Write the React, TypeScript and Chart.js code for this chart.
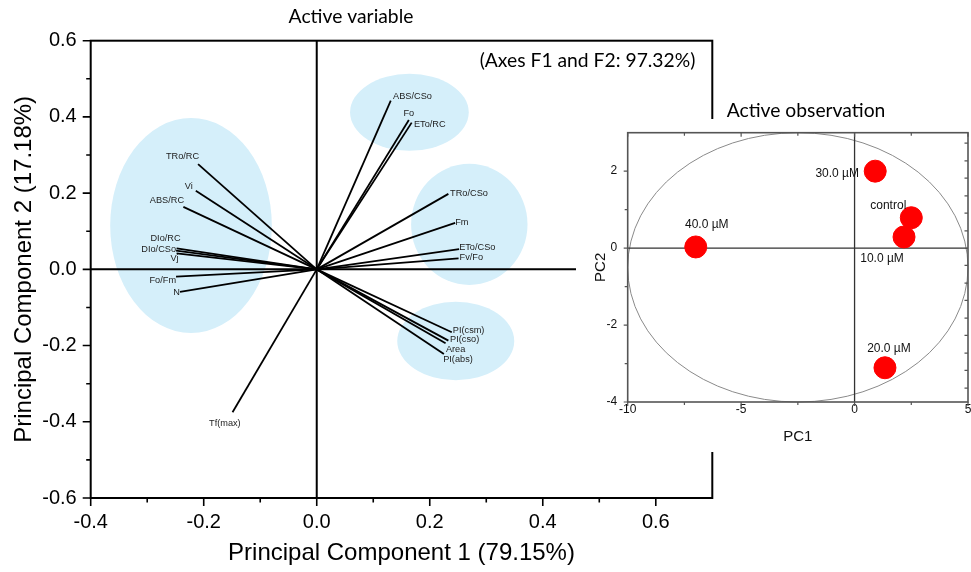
import React, { useEffect, useRef } from 'react';
import { Chart, registerables } from 'chart.js';

Chart.register(...registerables);

// ---------- Data: active variables (loadings) ----------
const varNames = ['TRo/RC', 'Vi', 'ABS/RC', 'DIo/RC', 'DIo/CSo', 'Vj', 'Fo/Fm', 'N', 'ABS/CSo', 'Fo', 'ETo/RC', 'TRo/CSo', 'Fm', 'ETo/CSo', 'Fv/Fo', 'PI(csm)', 'PI(cso)', 'Area', 'PI(abs)', 'Tf(max)'];
const varPC1 = [-0.210, -0.214, -0.236, -0.248, -0.249, -0.248, -0.249, -0.242, 0.131, 0.163, 0.168, 0.233, 0.245, 0.252, 0.251, 0.239, 0.233, 0.228, 0.225, -0.149];
const varPC2 = [0.276, 0.206, 0.164, 0.055, 0.049, 0.042, -0.019, -0.059, 0.443, 0.392, 0.385, 0.198, 0.122, 0.053, 0.029, -0.165, -0.187, -0.194, -0.222, -0.375];

// group ellipses (data units)
const groupCx = [-0.2225, 0.164, 0.270, 0.246];
const groupCy = [0.115, 0.412, 0.118, -0.188];
const groupRx = [0.143, 0.105, 0.103, 0.1035];
const groupRy = [0.282, 0.101, 0.159, 0.103];

// ---------- Data: active observations (scores) ----------
const obsNames = ['control', '10.0 \u00b5M', '20.0 \u00b5M', '30.0 \u00b5M', '40.0 \u00b5M'];
const obsPC1 = [2.50, 2.18, 1.34, 0.91, -7.00];
const obsPC2 = [0.79, 0.29, -3.11, 2.00, 0.03];
const confCenter = [-2.5, -0.5];
const confRadii = [7.5, 3.5];

// ---------- Tick values ----------
const mainXTicks = [-0.4, -0.2, 0, 0.2, 0.4, 0.6];
const mainXMinor = [-0.3, -0.1, 0.1, 0.3, 0.5];
const mainYTicks = [-0.6, -0.4, -0.2, 0, 0.2, 0.4, 0.6];
const mainYMinor = [-0.5, -0.3, -0.1, 0.1, 0.3, 0.5];
const insetXTicks = [-10, -5, 0, 5];
const insetXMinor = [-7.5, -2.5, 2.5];
const insetYTicks = [-4, -2, 0, 2];
const insetYMinor = [-3, -1, 1];
const insetRightTicks = [-3.64, -3.18, -2.73, -2.27, -1.82, -1.36, -0.91, -0.45, 0.45, 0.91, 1.36, 1.82, 2.27, 2.73];

// ---------- Label placement (pixel offsets from vector end: dx, dy, align) ----------
const varLabelPlace: [number, number, CanvasTextAlign][] = [
  [1, -7.6, 'right'], [-3, -4.3, 'right'], [0.7, -6.7, 'right'], [4, -10, 'right'], [0, -1.4, 'right'],
  [2, 5, 'right'], [0, 4, 'right'], [0, 0.6, 'right'],
  [2.3, -4, 'left'], [0, -7, 'center'], [2.3, 1.5, 'left'],
  [1.7, -0.7, 'left'], [0, -0.4, 'left'], [0, -1.3, 'left'], [1, -0.6, 'left'],
  [1, -1.3, 'left'], [1.7, -0.7, 'left'], [0.3, 5.7, 'left'], [-0.7, 5.3, 'left'],
  [-7.7, 11.7, 'center'],
];
const obsLabelPlace: [number, number][] = [[-23, -11.7], [-22, 22], [4, -19], [-38, 2.6], [11, -22]];

const SANS = '"Liberation Sans", Arial, sans-serif';
const CAL = 'Lato, "Open Sans", sans-serif';
const ELLIPSE_FILL = 'rgb(213, 239, 250)';

function drawTicks(ctx: CanvasRenderingContext2D, scale: any, values: number[], side: string, edge: number, len: number) {
  ctx.beginPath();
  values.forEach((v) => {
    const p = scale.getPixelForValue(v);
    if (side === 'bottom') { ctx.moveTo(p, edge); ctx.lineTo(p, edge + len); }
    if (side === 'top') { ctx.moveTo(p, edge); ctx.lineTo(p, edge - len); }
    if (side === 'left') { ctx.moveTo(edge, p); ctx.lineTo(edge - len, p); }
    if (side === 'right') { ctx.moveTo(edge, p); ctx.lineTo(edge + len, p); }
  });
  ctx.stroke();
}

function zeroPad(s: any) {
  s.paddingLeft = 0; s.paddingRight = 0; s.paddingTop = 0; s.paddingBottom = 0;
}

const mainDecor = {
  id: 'mainDecor',
  beforeDatasetsDraw(chart: any) {
    const { ctx, chartArea: a, scales: { x, y } } = chart;
    ctx.save();
    ctx.fillStyle = ELLIPSE_FILL;
    groupCx.forEach((cx, i) => {
      const px = x.getPixelForValue(cx);
      const py = y.getPixelForValue(groupCy[i]);
      const rx = Math.abs(x.getPixelForValue(cx + groupRx[i]) - px);
      const ry = Math.abs(y.getPixelForValue(groupCy[i] + groupRy[i]) - py);
      ctx.beginPath();
      ctx.ellipse(px, py, rx, ry, 0, 0, Math.PI * 2);
      ctx.fill();
    });
    const x0 = x.getPixelForValue(0);
    const y0 = y.getPixelForValue(0);
    ctx.strokeStyle = '#000';
    ctx.lineWidth = 2;
    ctx.beginPath();
    ctx.moveTo(a.left, y0); ctx.lineTo(a.right, y0);
    ctx.moveTo(x0, a.top); ctx.lineTo(x0, a.bottom);
    ctx.stroke();
    ctx.restore();
  },
  afterDatasetsDraw(chart: any) {
    const { ctx, chartArea: a, scales: { x, y } } = chart;
    ctx.save();
    // variable labels
    ctx.fillStyle = '#222';
    ctx.font = `9.2px ${SANS}`;
    ctx.textBaseline = 'middle';
    varNames.forEach((name, i) => {
      const [dx, dy, al] = varLabelPlace[i];
      ctx.textAlign = al;
      ctx.fillText(name, x.getPixelForValue(varPC1[i]) + dx, y.getPixelForValue(varPC2[i]) + dy);
    });
    // frame
    ctx.strokeStyle = '#000';
    ctx.lineWidth = 2;
    ctx.strokeRect(a.left, a.top, a.right - a.left, a.bottom - a.top);
    ctx.lineWidth = 1.6;
    drawTicks(ctx, x, mainXTicks, 'bottom', a.bottom, 8);
    drawTicks(ctx, x, mainXMinor, 'bottom', a.bottom, 4.5);
    drawTicks(ctx, y, mainYTicks, 'left', a.left, 8);
    drawTicks(ctx, y, mainYMinor, 'left', a.left, 4.5);
    // inset background
    ctx.fillStyle = '#fff';
    ctx.fillRect(576, 119, 395, 333);
    // texts
    ctx.fillStyle = '#000';
    ctx.textBaseline = 'middle';
    ctx.textAlign = 'center';
    ctx.font = `19.3px ${CAL}`;
    ctx.fillText('Active variable', 351, 17);
    ctx.fillText('(Axes F1 and F2: 97.32%)', 587.5, 61);
    ctx.fillText('Active observation', 806, 111);
    ctx.restore();
  },
};

const insetDecor = {
  id: 'insetDecor',
  beforeDatasetsDraw(chart: any) {
    const { ctx, chartArea: a, scales: { x, y } } = chart;
    ctx.save();
    const px = x.getPixelForValue(confCenter[0]);
    const py = y.getPixelForValue(confCenter[1]);
    const rx = Math.abs(x.getPixelForValue(confCenter[0] + confRadii[0]) - px);
    const ry = Math.abs(y.getPixelForValue(confCenter[1] + confRadii[1]) - py);
    ctx.strokeStyle = '#8a8a8a';
    ctx.lineWidth = 1;
    ctx.beginPath();
    ctx.ellipse(px, py, rx, ry, 0, 0, Math.PI * 2);
    ctx.stroke();
    const x0 = x.getPixelForValue(0);
    const y0 = y.getPixelForValue(0);
    ctx.strokeStyle = '#333';
    ctx.lineWidth = 1.3;
    ctx.beginPath();
    ctx.moveTo(a.left, y0); ctx.lineTo(a.right, y0);
    ctx.moveTo(x0, a.top); ctx.lineTo(x0, a.bottom);
    ctx.stroke();
    ctx.restore();
  },
  afterDatasetsDraw(chart: any) {
    const { ctx, chartArea: a, scales: { x, y } } = chart;
    ctx.save();
    ctx.strokeStyle = '#555';
    ctx.lineWidth = 1.6;
    ctx.strokeRect(a.left, a.top, a.right - a.left, a.bottom - a.top);
    ctx.lineWidth = 1.2;
    drawTicks(ctx, x, insetXTicks, 'bottom', a.bottom, 4);
    drawTicks(ctx, x, insetXMinor, 'bottom', a.bottom, 3);
    drawTicks(ctx, x, insetXTicks, 'top', a.top, -4);
    drawTicks(ctx, x, insetXMinor, 'top', a.top, -3);
    drawTicks(ctx, y, insetYTicks, 'left', a.left, 4);
    drawTicks(ctx, y, insetYMinor, 'left', a.left, 3);
    drawTicks(ctx, y, insetRightTicks, 'right', a.right, -3.5);
    ctx.fillStyle = '#111';
    ctx.font = `12px ${SANS}`;
    ctx.textAlign = 'center';
    ctx.textBaseline = 'middle';
    obsNames.forEach((name, i) => {
      const [dx, dy] = obsLabelPlace[i];
      ctx.fillText(name, x.getPixelForValue(obsPC1[i]) + dx, y.getPixelForValue(obsPC2[i]) + dy);
    });
    ctx.restore();
  },
};

export default function App() {
  const mainRef = useRef<HTMLCanvasElement>(null);
  const insetRef = useRef<HTMLCanvasElement>(null);

  useEffect(() => {
    if (!mainRef.current || !insetRef.current) return;
    const main = new Chart(mainRef.current, {
      type: 'scatter',
      data: {
        datasets: varNames.map((name, i) => ({
          label: name,
          data: [{ x: 0, y: 0 }, { x: varPC1[i], y: varPC2[i] }],
          showLine: true,
          borderColor: '#000',
          borderWidth: 1.8,
          pointRadius: 0,
          pointHoverRadius: 0,
        })),
      },
      options: {
        responsive: false,
        animation: false,
        devicePixelRatio: 1,
        layout: { autoPadding: false, padding: { left: 0, right: 258.7, top: 40.7, bottom: 0 } },
        plugins: { legend: { display: false }, tooltip: { enabled: false } },
        scales: {
          x: {
            type: 'linear', min: -0.4, max: 0.7,
            afterBuildTicks: (s: any) => { s.ticks = mainXTicks.map((v) => ({ value: v })); },
            afterFit: (s: any) => { s.height = 74; zeroPad(s); },
            grid: { display: false, drawTicks: false },
            border: { display: false },
            ticks: { autoSkip: false, maxRotation: 0, padding: 12, color: '#000', font: { family: SANS, size: 20 }, callback: (v: any) => Number(v).toFixed(1) },
            title: { display: true, text: 'Principal Component 1 (79.15%)', color: '#000', font: { family: SANS, size: 24 }, padding: { top: 0, bottom: 4 } },
          },
          y: {
            type: 'linear', min: -0.6, max: 0.6,
            afterBuildTicks: (s: any) => { s.ticks = mainYTicks.map((v) => ({ value: v })); },
            afterFit: (s: any) => { s.width = 90.7; zeroPad(s); },
            grid: { display: false, drawTicks: false },
            border: { display: false },
            ticks: { autoSkip: false, padding: 14, color: '#000', font: { family: SANS, size: 20 }, callback: (v: any) => Number(v).toFixed(1) },
            title: { display: true, text: 'Principal Component 2 (17.18%)', color: '#000', font: { family: SANS, size: 24 }, padding: { top: 10, bottom: 0 } },
          },
        },
      },
      plugins: [mainDecor],
    });

    const inset = new Chart(insetRef.current, {
      type: 'scatter',
      data: {
        datasets: [{
          label: 'observations',
          data: obsPC1.map((v, i) => ({ x: v, y: obsPC2[i] })),
          backgroundColor: '#ff0000',
          borderColor: '#ff0000',
          pointRadius: 11,
          pointHoverRadius: 11,
        }],
      },
      options: {
        responsive: false,
        animation: false,
        devicePixelRatio: 1,
        layout: { autoPadding: false, padding: { left: 0, right: 3, top: 13.7, bottom: 0 } },
        plugins: { legend: { display: false }, tooltip: { enabled: false } },
        scales: {
          x: {
            type: 'linear', min: -10, max: 5,
            afterBuildTicks: (s: any) => { s.ticks = insetXTicks.map((v) => ({ value: v })); },
            afterFit: (s: any) => { s.height = 50; zeroPad(s); },
            grid: { display: false, drawTicks: false },
            border: { display: false },
            ticks: { autoSkip: false, maxRotation: 0, padding: 0, color: '#111', font: { family: SANS, size: 12 } },
            title: { display: true, text: 'PC1', color: '#111', font: { family: SANS, size: 15 }, padding: { top: 0, bottom: 6 } },
          },
          y: {
            type: 'linear', min: -4, max: 3,
            afterBuildTicks: (s: any) => { s.ticks = insetYTicks.map((v) => ({ value: v })); },
            afterFit: (s: any) => { s.width = 51.7; zeroPad(s); },
            grid: { display: false, drawTicks: false },
            border: { display: false },
            ticks: { autoSkip: false, padding: 10.5, color: '#111', font: { family: SANS, size: 12 } },
            title: { display: true, text: 'PC2', color: '#111', font: { family: SANS, size: 15 }, padding: { top: 16, bottom: 0 } },
          },
        },
      },
      plugins: [insetDecor],
    });

    return () => { main.destroy(); inset.destroy(); };
  }, []);

  return (
    <div style={{ position: 'absolute', left: 0, top: 0, width: 971, height: 572, background: '#fff' }}>
      <canvas ref={mainRef} width={971} height={572} style={{ position: 'absolute', left: 0, top: 0 }} />
      <canvas ref={insetRef} width={395} height={333} style={{ position: 'absolute', left: 576, top: 119 }} />
    </div>
  );
}
